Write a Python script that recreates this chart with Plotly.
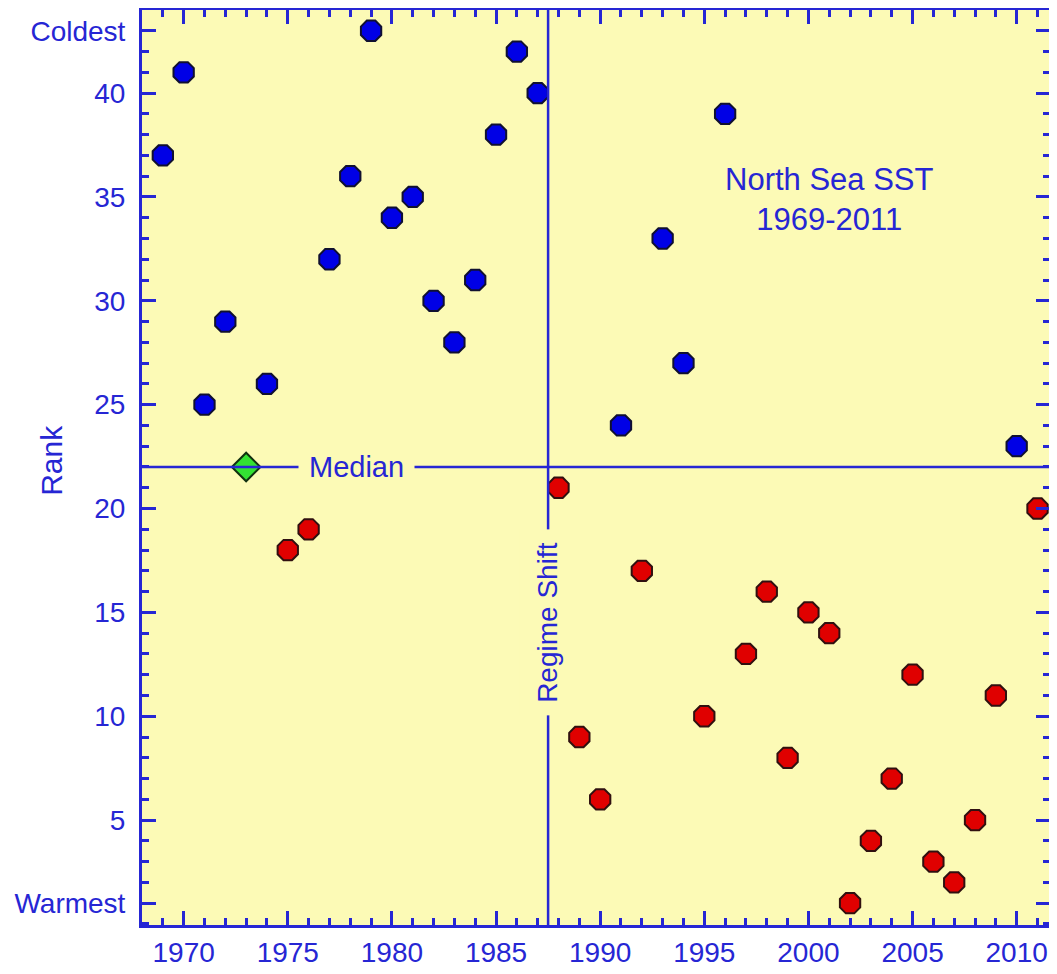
import plotly.graph_objects as go

# North Sea SST rank by year (1 = warmest, 43 = coldest)
years = list(range(1969, 2012))
ranks = [37, 41, 25, 29, 22, 26, 18, 19, 32, 36,
         43, 34, 35, 30, 28, 31, 38, 42, 40, 21,
         9, 6, 24, 17, 33, 27, 10, 39, 13, 16,
         8, 15, 14, 1, 4, 7, 12, 3, 2, 5,
         11, 23, 20]
median_rank = 22
regime_shift_year = 1987.5

ytick_vals = [1, 5, 10, 15, 20, 25, 30, 35, 40, 43]
ytick_text = ['Warmest', '5', '10', '15', '20', '25', '30', '35', '40', 'Coldest']
xtick_vals = [1970, 1975, 1980, 1985, 1990, 1995, 2000, 2005, 2010]

BLUE = '#2626d4'
BG = '#fcfab6'
FONT = 'Liberation Sans, Arial'

cold_x = [y for y, r in zip(years, ranks) if r > median_rank]
cold_y = [r for r in ranks if r > median_rank]
warm_x = [y for y, r in zip(years, ranks) if r < median_rank]
warm_y = [r for r in ranks if r < median_rank]
med_x = [y for y, r in zip(years, ranks) if r == median_rank]
med_y = [r for r in ranks if r == median_rank]

fig = go.Figure()

# median and regime shift lines
fig.add_hline(y=median_rank, line=dict(color=BLUE, width=2.5))
fig.add_vline(x=regime_shift_year, line=dict(color=BLUE, width=2.5))

fig.add_trace(go.Scatter(x=cold_x, y=cold_y, mode='markers',
                         marker=dict(symbol='octagon', size=22, color='#0000e6',
                                     line=dict(color='#101030', width=2))))
fig.add_trace(go.Scatter(x=warm_x, y=warm_y, mode='markers',
                         marker=dict(symbol='octagon', size=22, color='#e00000',
                                     line=dict(color='#301010', width=2))))
fig.add_trace(go.Scatter(x=med_x, y=med_y, mode='markers',
                         marker=dict(symbol='diamond', size=22, color='#33e033',
                                     line=dict(color='#103010', width=2))))

fig.add_annotation(x=1978.3, y=median_rank, text='Median', showarrow=False,
                   font=dict(family=FONT, size=29, color=BLUE), bgcolor=BG,
                   borderpad=10, xanchor='center', yanchor='middle')
fig.add_annotation(x=regime_shift_year, y=14.5, text='Regime Shift', showarrow=False,
                   textangle=-90, font=dict(family=FONT, size=28, color=BLUE),
                   bgcolor=BG, borderpad=12, xanchor='center', yanchor='middle')
fig.add_annotation(x=2001.0, y=34.9, text='North Sea SST<br>1969-2011', showarrow=False,
                   font=dict(family=FONT, size=31, color=BLUE),
                   xanchor='center', yanchor='middle')
# y axis title placed by hand
fig.add_annotation(xref='paper', yref='y', x=-0.099, y=22.3, text='Rank',
                   showarrow=False, textangle=-90,
                   font=dict(family=FONT, size=30, color=BLUE),
                   xanchor='center', yanchor='middle')

axis_common = dict(showline=True, linecolor=BLUE, linewidth=3, mirror='ticks',
                   ticks='inside', tickcolor=BLUE, tickwidth=2.5, ticklen=14,
                   showgrid=False, zeroline=False, automargin=False,
                   tickfont=dict(family=FONT, size=28, color=BLUE))

fig.update_xaxes(range=[1968, 2011.6], tickvals=xtick_vals, ticklabelstandoff=0,
                 minor=dict(ticks='inside', ticklen=7, tickwidth=2.5, tickcolor=BLUE,
                            tick0=1968, dtick=1),
                 **axis_common)
fig.update_yaxes(range=[-0.05, 44], tickvals=ytick_vals, ticktext=ytick_text,
                 ticklabelstandoff=8,
                 minor=dict(ticks='inside', ticklen=7, tickwidth=2.5, tickcolor=BLUE,
                            tick0=0, dtick=1),
                 **axis_common)

# page body adds an 8px offset, so the figure is sized to fit the window
fig.update_layout(width=1049, height=964, showlegend=False,
                  plot_bgcolor=BG, paper_bgcolor='white',
                  margin=dict(l=134, r=7, t=2, b=47))

fig.write_html("out.html")
